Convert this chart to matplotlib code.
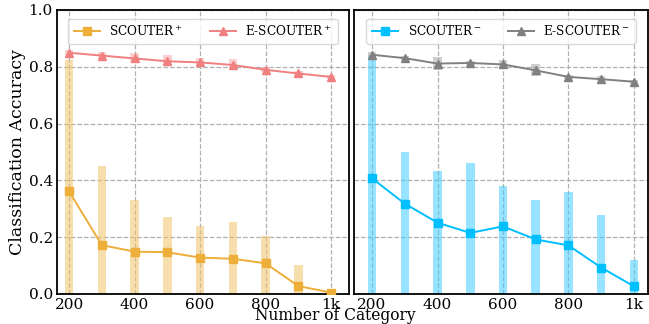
import matplotlib
matplotlib.use('Agg')
import matplotlib.pyplot as plt
import numpy as np

# number of categories on the x axis
categories = [200, 300, 400, 500, 600, 700, 800, 900, 1000]
tick_labels = ['200', '400', '600', '800', '1k']
tick_pos = [200, 400, 600, 800, 1000]

# mean accuracy per method
scouter_plus = [0.361, 0.172, 0.149, 0.147, 0.128, 0.124, 0.108, 0.028, 0.005]
escouter_plus = [0.849, 0.839, 0.829, 0.819, 0.815, 0.806, 0.789, 0.776, 0.764]
scouter_minus = [0.407, 0.318, 0.251, 0.215, 0.238, 0.192, 0.171, 0.093, 0.027]
escouter_minus = [0.842, 0.830, 0.811, 0.813, 0.808, 0.787, 0.764, 0.756, 0.747]

# spread of the runs (min / max) shown as violins
scouter_plus_lo = [0.0, 0.0, 0.0, 0.0, 0.0, 0.0, 0.0, 0.0, 0.0]
scouter_plus_hi = [0.822, 0.452, 0.332, 0.270, 0.238, 0.252, 0.204, 0.102, 0.015]
escouter_plus_lo = [0.838, 0.826, 0.812, 0.802, 0.800, 0.790, 0.780, 0.768, 0.758]
escouter_plus_hi = [0.860, 0.852, 0.848, 0.842, 0.832, 0.826, 0.800, 0.786, 0.770]
scouter_minus_lo = [0.0, 0.0, 0.0, 0.0, 0.0, 0.0, 0.0, 0.0, 0.0]
scouter_minus_hi = [0.842, 0.501, 0.432, 0.461, 0.381, 0.330, 0.359, 0.279, 0.120]
escouter_minus_lo = [0.834, 0.822, 0.788, 0.806, 0.792, 0.768, 0.758, 0.748, 0.740]
escouter_minus_hi = [0.850, 0.838, 0.834, 0.820, 0.824, 0.810, 0.772, 0.766, 0.754]

plt.rcParams['font.family'] = 'DejaVu Serif'
plt.rcParams['mathtext.fontset'] = 'dejavuserif'

fig = plt.figure(figsize=(6.49, 3.24), dpi=100)
ax1 = fig.add_axes([0.0878, 0.0926, 0.450, 0.877])
ax2 = fig.add_axes([0.5455, 0.0926, 0.453, 0.877])


def draw_panel(ax, mean_a, lo_a, hi_a, col_a, fill_a, lab_a,
               mean_b, lo_b, hi_b, col_b, fill_b, lab_b, xlim):
    x = np.array(categories)
    ax.bar(x, np.array(hi_a) - np.array(lo_a), bottom=lo_a, width=26,
           color=fill_a, alpha=0.55, linewidth=0, zorder=2)
    ax.bar(x, np.array(hi_b) - np.array(lo_b), bottom=lo_b, width=26,
           color=fill_b, alpha=0.5, linewidth=0, zorder=2)
    ax.plot(x, mean_a, color=col_a, marker='s', markersize=6, lw=1.4,
            label=lab_a, zorder=3)
    ax.plot(x, mean_b, color=col_b, marker='^', markersize=6, lw=1.4,
            label=lab_b, zorder=3)
    ax.set_xlim(*xlim)
    ax.set_ylim(0, 1.0)
    ax.set_xticks(tick_pos)
    ax.set_xticklabels(tick_labels)
    ax.set_yticks([0, 0.2, 0.4, 0.6, 0.8, 1.0])
    ax.grid(True, linestyle='--', color='#b0b0b0', lw=0.9)
    ax.set_axisbelow(True)
    ax.tick_params(labelsize=11, length=0, pad=3)
    for s in ax.spines.values():
        s.set_linewidth(1.3)
    ax.legend(loc='upper center', ncol=2, fontsize=8.7, frameon=True,
              framealpha=0.8, handlelength=2.2, handletextpad=0.75,
              columnspacing=2.2, bbox_to_anchor=(0.5, 0.99),
              borderpad=0.45, edgecolor='#d0d0d0')


draw_panel(ax1, scouter_plus, scouter_plus_lo, scouter_plus_hi, '#EDAE3A', '#F2C46A',
           'SCOUTER$^+$',
           escouter_plus, escouter_plus_lo, escouter_plus_hi, '#F08080', '#F4A0A0',
           'E-SCOUTER$^+$', (163, 1055))
draw_panel(ax2, scouter_minus, scouter_minus_lo, scouter_minus_hi, '#00BFFF', '#44CCFF',
           'SCOUTER$^-$',
           escouter_minus, escouter_minus_lo, escouter_minus_hi, '#808080', '#A0A0A0',
           'E-SCOUTER$^-$', (145, 1043))

ax1.yaxis.set_major_formatter(matplotlib.ticker.FormatStrFormatter('%.1f'))
ax2.set_yticklabels([])
ax1.set_ylabel('Classification Accuracy', fontsize=12.5, labelpad=2)
fig.text(0.517, 0.0, 'Number of Category', ha='center', va='bottom', fontsize=11.2)

fig.savefig('out.png', dpi=100)
